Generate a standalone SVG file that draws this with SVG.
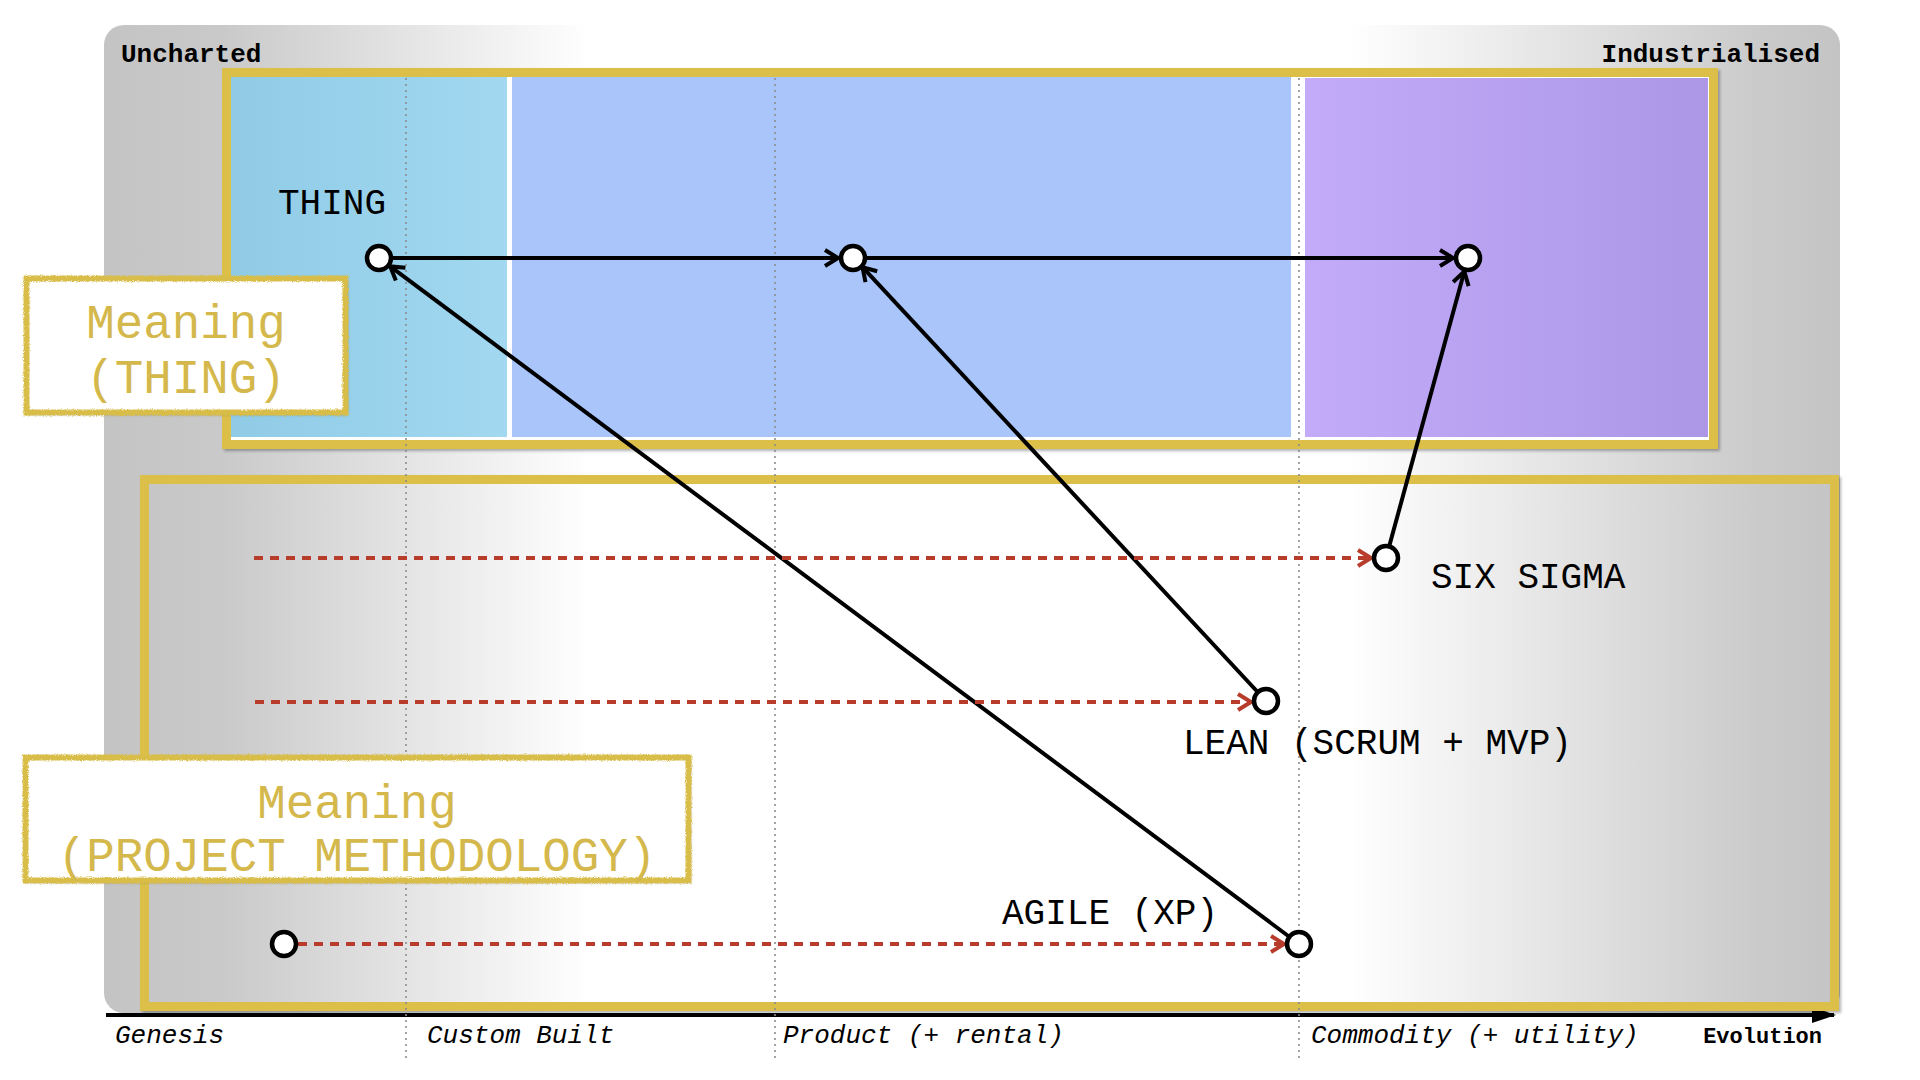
<svg xmlns="http://www.w3.org/2000/svg" width="1920" height="1080" viewBox="0 0 1920 1080">
<defs>
  <linearGradient id="bgGrad" gradientUnits="userSpaceOnUse" x1="104" y1="0" x2="1840" y2="0">
    <stop offset="0" stop-color="#c4c4c4"/>
    <stop offset="0.067" stop-color="#c9c9c9"/>
    <stop offset="0.28" stop-color="#ffffff"/>
    <stop offset="0.716" stop-color="#ffffff"/>
    <stop offset="0.955" stop-color="#cacaca"/>
    <stop offset="1" stop-color="#c4c4c4"/>
  </linearGradient>
  <linearGradient id="lightBlue" x1="0" y1="0" x2="1" y2="0">
    <stop offset="0" stop-color="#90cbe6"/>
    <stop offset="1" stop-color="#a2d8f0"/>
  </linearGradient>
  <linearGradient id="purple" x1="0" y1="0" x2="1" y2="0">
    <stop offset="0" stop-color="#c3abf9"/>
    <stop offset="1" stop-color="#ab97e6"/>
  </linearGradient>
  <filter id="shadow" x="-5%" y="-5%" width="110%" height="110%">
    <feDropShadow dx="2" dy="2" stdDeviation="1.5" flood-color="#000" flood-opacity="0.3"/>
  </filter>
  <filter id="rough" x="-5%" y="-10%" width="110%" height="120%">
    <feTurbulence type="fractalNoise" baseFrequency="0.8" numOctaves="2" result="noise"/>
    <feDisplacementMap in="SourceGraphic" in2="noise" scale="3.5" xChannelSelector="R" yChannelSelector="G"/>
  </filter>
  <marker id="arrowBlack" markerUnits="userSpaceOnUse" viewBox="0 0 18 20" markerWidth="18" markerHeight="20" refX="15" refY="10" orient="auto">
    <path d="M2,2 L15,10 L2,18" fill="none" stroke="#000" stroke-width="4" stroke-linejoin="miter"/>
  </marker>
  <marker id="arrowRed" markerUnits="userSpaceOnUse" viewBox="0 0 18 20" markerWidth="18" markerHeight="20" refX="15" refY="10" orient="auto">
    <path d="M2,2 L15,10 L2,18" fill="none" stroke="#b83c2b" stroke-width="4" stroke-linejoin="miter"/>
  </marker>
  <marker id="axisArrow" markerUnits="userSpaceOnUse" viewBox="0 0 24 20" markerWidth="24" markerHeight="20" refX="22" refY="10" orient="auto">
    <path d="M0,2 L24,10 L0,18 Z" fill="#000"/>
  </marker>
</defs>
<style>
  .mono { font-family: "Liberation Mono", "Courier New", monospace; }
  .corner { font-size: 26px; font-weight: bold; fill: #000; }
  .stage { font-size: 26px; font-style: italic; fill: #000; }
  .label { font-size: 36px; fill: #000; }
  .meaning { font-size: 47.5px; fill: #d4b84c; text-anchor: middle; }
  .grid { stroke: #8c8c8c; stroke-width: 1.6; stroke-dasharray: 2 4; fill: none; }
  .flow { stroke: #000; stroke-width: 4; fill: none; marker-end: url(#arrowBlack); }
  .dash { stroke: #b83c2b; stroke-width: 4; fill: none; stroke-dasharray: 9 7; marker-end: url(#arrowRed); }
  .node { fill: #fff; stroke: #000; stroke-width: 4.5; }
  .panelBorder { stroke: #dbbf4a; stroke-width: 9; }
  .boxBorder { fill: none; stroke: #d8bd4a; stroke-width: 6; }
</style>

<!-- background -->
<rect x="104" y="25" width="1736" height="988" rx="20" ry="20" fill="url(#bgGrad)"/>

<!-- axis -->
<g id="axis">
  <line x1="106" y1="1015" x2="1834" y2="1015" stroke="#000" stroke-width="4" marker-end="url(#axisArrow)"/>
</g>

<!-- upper panel -->
<g id="panel-thing">
  <rect x="226.5" y="72.5" width="1487" height="372" fill="#ffffff" class="panelBorder" filter="url(#shadow)"/>
  <rect x="231" y="77" width="276" height="360" fill="url(#lightBlue)"/>
  <rect x="512" y="77" width="779" height="360" fill="#a9c5fa"/>
  <rect x="1305" y="78" width="403" height="359" fill="url(#purple)"/>
</g>

<!-- lower panel -->
<g id="panel-method">
  <rect x="144.5" y="479.5" width="1690" height="527" fill="url(#bgGrad)" class="panelBorder" filter="url(#shadow)"/>
</g>

<!-- grid lines -->
<g id="grid">
  <line class="grid" x1="406" y1="78" x2="406" y2="1058"/>
  <line class="grid" x1="775" y1="78" x2="775" y2="1058"/>
  <line class="grid" x1="1299" y1="78" x2="1299" y2="1058"/>
</g>

<!-- corner and stage labels -->
<g id="labels-axis" class="mono">
  <text class="corner" x="121" y="62">Uncharted</text>
  <text class="corner" x="1820" y="62" text-anchor="end">Industrialised</text>
  <text class="stage" x="115" y="1043">Genesis</text>
  <text class="stage" x="427" y="1043">Custom Built</text>
  <text class="stage" x="783" y="1043">Product (+ rental)</text>
  <text class="stage" x="1311" y="1043">Commodity (+ utility)</text>
  <text class="mono" x="1822" y="1043" text-anchor="end" font-size="22" font-weight="bold">Evolution</text>
</g>

<!-- connectors -->
<g id="connectors">
  <line class="flow" x1="391" y1="258" x2="838" y2="258"/>
  <line class="flow" x1="867" y1="258" x2="1453" y2="258"/>
  <line class="flow" x1="1299" y1="944" x2="390.2" y2="266.4"/>
  <line class="flow" x1="1266" y1="701" x2="862.5" y2="267.2"/>
  <line class="flow" x1="1386" y1="558" x2="1464.3" y2="271.5"/>
  <line class="dash" x1="254" y1="558" x2="1371" y2="558"/>
  <line class="dash" x1="255" y1="702" x2="1251" y2="702"/>
  <line class="dash" x1="298" y1="944" x2="1284" y2="944"/>
</g>

<!-- nodes -->
<g id="node-thing-genesis"><circle class="node" cx="379" cy="258" r="12"/><text class="mono label" x="278" y="214">THING</text></g>
<g id="node-thing-product"><circle class="node" cx="853" cy="258" r="12"/></g>
<g id="node-thing-commodity"><circle class="node" cx="1468" cy="258" r="12"/></g>
<g id="node-six-sigma"><circle class="node" cx="1386" cy="558" r="12"/><text class="mono label" x="1431" y="588">SIX SIGMA</text></g>
<g id="node-lean"><circle class="node" cx="1266" cy="701" r="12"/><text class="mono label" x="1183" y="754">LEAN (SCRUM + MVP)</text></g>
<g id="node-agile"><circle class="node" cx="1299" cy="944" r="12"/><text class="mono label" x="1002" y="924">AGILE (XP)</text></g>
<g id="node-method-genesis"><circle class="node" cx="284" cy="944" r="12"/></g>

<!-- meaning boxes -->
<g id="box-meaning-thing">
  <rect x="26.5" y="278.5" width="319" height="134" fill="#fff" filter="url(#shadow)"/>
  <rect x="26.5" y="278.5" width="319" height="134" class="boxBorder" filter="url(#rough)"/>
  <text class="mono meaning" x="186" y="337.5">Meaning</text>
  <text class="mono meaning" x="186" y="392.5">(THING)</text>
</g>
<g id="box-meaning-method">
  <rect x="25.5" y="757.5" width="663" height="123" fill="#fff" filter="url(#shadow)"/>
  <rect x="25.5" y="757.5" width="663" height="123" class="boxBorder" filter="url(#rough)"/>
  <text class="mono meaning" x="357" y="817.5">Meaning</text>
  <text class="mono meaning" x="357" y="870.5">(PROJECT METHODOLOGY)</text>
</g>
</svg>
